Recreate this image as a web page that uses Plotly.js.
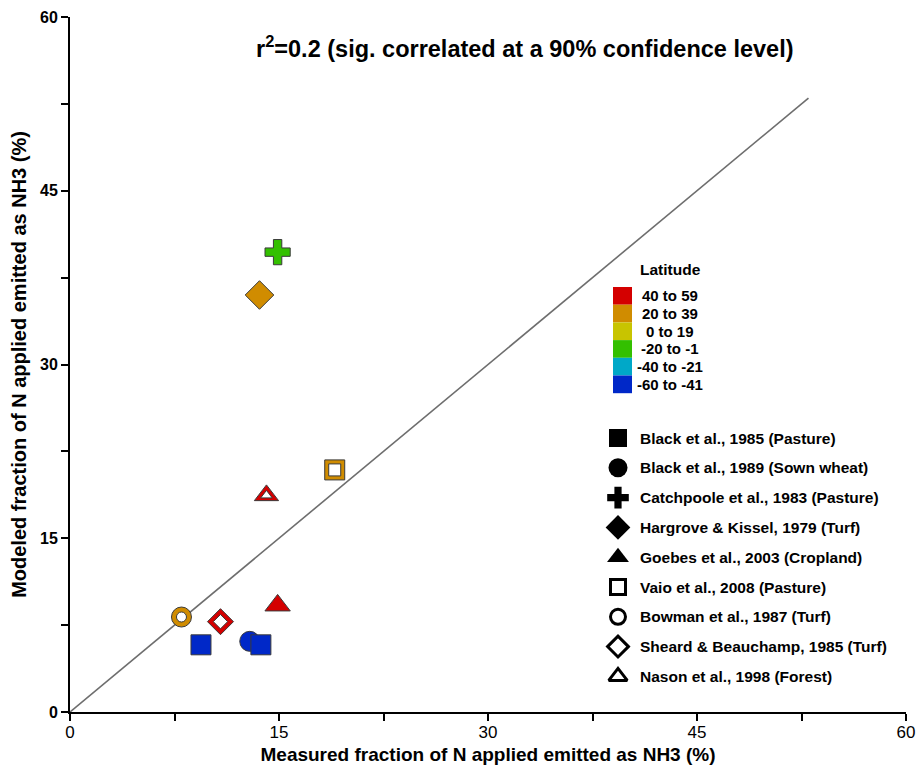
<!DOCTYPE html>
<html><head><meta charset="utf-8">
<script src="https://cdn.plot.ly/plotly-3.0.1.min.js"></script>
<style>body{margin:0;background:#fff}#chart{width:916px;height:765px}</style>
</head><body><div id="chart"></div>
<script>
// ---------- data ----------
const studies = [
  "Black et al., 1985 (Pasture)",
  "Black et al., 1989 (Sown wheat)",
  "Catchpoole et al., 1983 (Pasture)",
  "Hargrove & Kissel, 1979 (Turf)",
  "Goebes et al., 2003 (Cropland)",
  "Vaio et al., 2008 (Pasture)",
  "Bowman et al., 1987 (Turf)",
  "Sheard & Beauchamp, 1985 (Turf)",
  "Nason et al., 1998 (Forest)"
];
const latitudeBands = ["40 to 59", "20 to 39", "0 to 19", "-20 to -1", "-40 to -21", "-60 to -41"];
// each point: study index, latitude band index, measured %, modeled %
const pointStudy = [2, 3, 5, 8, 4, 6, 7, 0, 1, 0];
const pointBand  = [3, 1, 1, 0, 0, 1, 0, 5, 5, 5];
const measured   = [14.9, 13.6, 19.0, 14.1, 14.9, 8.0, 10.8, 9.4, 12.9, 13.7];
const modeled    = [39.7, 36.0, 20.9, 18.7, 9.2, 8.2, 7.8, 5.8, 6.1, 5.8];
const oneToOneLine = [0, 53];
const axisTicks = [0, 15, 30, 45, 60];
const minorTicks = [7.5, 22.5, 37.5, 52.5];

// ---------- styles ----------
const bandColors = ["#d40000", "#d08c00", "#c8c400", "#33c000", "#00a8c8", "#0028c8"];
const studyStyle = [
  {sym: "square",      size: 20, open: false, lg: 18},
  {sym: "circle",      size: 20, open: false, lg: 19},
  {sym: "cross",       size: 21, open: false, lg: 18},
  {sym: "diamond",     size: 22, open: false, lg: 19},
  {sym: "triangle-up", size: 22, open: false, lg: 19},
  {sym: "square",      size: 20, open: true, inner: 12, lg: 15},
  {sym: "circle",      size: 20, open: true, inner: 10, lg: 15},
  {sym: "diamond",     size: 20, open: true, inner: 11, lg: 16},
  {sym: "triangle-up", size: 21, open: true, inner: 10, lg: 16}
];
const edge = "#3a3a3a";

// outer (coloured) markers
const outer = {
  type: "scatter", mode: "markers", x: measured, y: modeled,
  marker: {
    symbol: pointStudy.map(s => studyStyle[s].sym),
    size: pointStudy.map(s => studyStyle[s].size),
    color: pointBand.map(b => bandColors[b]),
    opacity: 1,
    line: {color: edge, width: 1}
  },
  hoverinfo: "skip", showlegend: false, cliponaxis: false
};
// inner white holes for open symbols
const openIdx = pointStudy.map((s, i) => i).filter(i => studyStyle[pointStudy[i]].open);
const inner = {
  type: "scatter", mode: "markers",
  x: openIdx.map(i => measured[i]), y: openIdx.map(i => modeled[i]),
  marker: {
    symbol: openIdx.map(i => studyStyle[pointStudy[i]].sym),
    size: openIdx.map(i => studyStyle[pointStudy[i]].inner),
    color: "#ffffff", opacity: 1,
    line: {color: edge, width: 1}
  },
  hoverinfo: "skip", showlegend: false, cliponaxis: false
};
const line11 = {
  type: "scatter", mode: "lines", x: oneToOneLine, y: oneToOneLine,
  line: {color: "#6e6e6e", width: 1.6}, hoverinfo: "skip", showlegend: false
};

// ---------- legend on pixel-like overlay axes ----------
const legX = 618, legY0 = 438, legDy = 29.8;
const legYs = studies.map((s, i) => legY0 + i * legDy);
const legendMarkers = {
  type: "scatter", mode: "markers", xaxis: "x2", yaxis: "y2",
  x: studies.map(() => legX), y: legYs,
  marker: {
    symbol: studyStyle.map(st => st.sym),
    size: studyStyle.map(st => st.lg),
    color: studyStyle.map(st => st.open ? "#ffffff" : "#000000"),
    opacity: 1,
    line: {color: "#000000", width: studyStyle.map(st => st.open ? 3 : 0)}
  },
  hoverinfo: "skip", showlegend: false, cliponaxis: false
};

const font = "Liberation Sans, Arial, sans-serif";
const annotations = [];
studies.forEach((s, i) => annotations.push({
  xref: "x2", yref: "y2", x: 638, y: legYs[i], text: "<b>" + s + "</b>",
  showarrow: false, xanchor: "left", yanchor: "middle",
  font: {family: font, size: 15.5, color: "#000"}
}));
const keyX0 = 613, keyX1 = 632, keyY0 = 287, keyDy = 17.7;
const shapes = latitudeBands.map((b, i) => ({
  type: "rect", xref: "x2", yref: "y2", x0: keyX0, x1: keyX1,
  y0: keyY0 + i * keyDy, y1: keyY0 + (i + 1) * keyDy,
  fillcolor: bandColors[i], line: {width: 0}, layer: "above"
}));
latitudeBands.forEach((b, i) => annotations.push({
  xref: "x2", yref: "y2", x: 670, y: keyY0 + (i + 0.5) * keyDy, text: "<b>" + b + "</b>",
  showarrow: false, xanchor: "center", yanchor: "middle",
  font: {family: font, size: 15, color: "#000"}
}));
annotations.push({
  xref: "x2", yref: "y2", x: 670, y: 269, text: "<b>Latitude</b>",
  showarrow: false, xanchor: "center", yanchor: "middle",
  font: {family: font, size: 15.5, color: "#000"}
});
annotations.push({
  xref: "x2", yref: "y2", x: 525, y: 47,
  text: "<b>r<sup>2</sup>=0.2 (sig. correlated at a 90% confidence level)</b>",
  showarrow: false, xanchor: "center", yanchor: "middle",
  font: {family: font, size: 23.5, color: "#000"}
});

const axisBase = {
  range: [0, 60], tickvals: axisTicks, ticks: "outside", ticklen: 7, tickwidth: 2,
  tickcolor: "#000", showline: true, linewidth: 2, linecolor: "#000",
  showgrid: false, zeroline: false, fixedrange: true,
  minor: {tickvals: minorTicks, ticks: "outside", ticklen: 7, tickwidth: 2, tickcolor: "#000", showgrid: false}
};
const layout = {
  width: 916, height: 765,
  margin: {l: 70, r: 10, t: 17, b: 53},
  paper_bgcolor: "#fff", plot_bgcolor: "#fff",
  showlegend: false,
  xaxis: Object.assign({}, axisBase, {
    tickfont: {family: font, size: 17, color: "#000"},
    ticklabelstandoff: -3,
    title: {text: "<b>Measured fraction of N applied emitted as NH3 (%)</b>", standoff: 10,
            font: {family: font, size: 19, color: "#000"}}
  }),
  yaxis: Object.assign({}, axisBase, {
    ticktext: axisTicks.map(v => "<b>" + v + "</b>"),
    tickfont: {family: font, size: 16, color: "#000"},
    title: {text: "<b>Modeled fraction of N applied emitted as NH3 (%)</b>", standoff: 8,
            font: {family: font, size: 20, color: "#000"}}
  }),
  xaxis2: {overlaying: "x", range: [70, 906], visible: false, fixedrange: true},
  yaxis2: {overlaying: "y", range: [712, 17], visible: false, fixedrange: true},
  shapes: shapes,
  annotations: annotations
};
Plotly.newPlot("chart", [line11, outer, inner, legendMarkers], layout, {staticPlot: true});
</script>
</body></html>
